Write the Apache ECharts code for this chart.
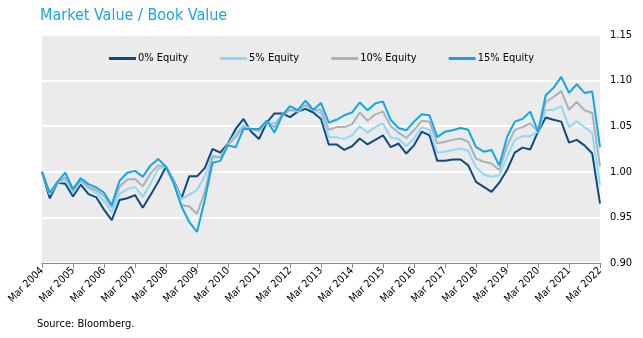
<!DOCTYPE html>
<html>
<head>
<meta charset="utf-8">
<script src="https://cdn.jsdelivr.net/npm/echarts@6/dist/echarts.min.js"></script>
<style>
html,body{margin:0;padding:0;background:#fff;}
#chart{width:643px;height:338px;}
</style>
</head>
<body>
<div id="chart"></div>
<script>
var years = [];
for (var yr = 2004; yr <= 2022; yr++) years.push(yr);
var quarterNames = ['Mar', 'Jun', 'Sep', 'Dec'];
var categories = [];
years.forEach(function (y) {
  quarterNames.forEach(function (q) {
    if (y === 2022 && q !== 'Mar') return;
    categories.push(q + ' ' + y);
  });
});

var equity0 = [1.000,0.971,0.988,0.987,0.973,0.986,0.9755,0.972,0.9585,0.947,0.969,0.971,0.9745,0.9605,0.9745,0.989,1.0055,0.990,0.971,0.995,0.995,1.004,1.025,1.021,1.031,1.047,1.058,1.044,1.036,1.054,1.064,1.064,1.060,1.066,1.069,1.065,1.058,1.030,1.030,1.024,1.028,1.0365,1.030,1.035,1.040,1.027,1.031,1.020,1.029,1.044,1.040,1.012,1.012,1.0135,1.0135,1.007,0.989,0.9835,0.978,0.988,1.002,1.021,1.0265,1.0245,1.044,1.0595,1.057,1.055,1.032,1.035,1.029,1.020,0.965];
var equity5 = [1.000,0.975,0.988,0.991,0.977,0.989,0.982,0.977,0.968,0.956,0.9755,0.981,0.9835,0.9725,0.987,1.0035,1.0055,0.989,0.970,0.975,0.980,0.995,1.018,1.016,1.030,1.042,1.051,1.047,1.044,1.055,1.053,1.062,1.0675,1.066,1.073,1.068,1.064,1.038,1.038,1.036,1.040,1.050,1.043,1.049,1.053,1.0375,1.036,1.028,1.0365,1.049,1.046,1.021,1.022,1.024,1.0255,1.023,1.005,0.997,0.9945,0.996,1.016,1.035,1.039,1.039,1.044,1.0675,1.068,1.072,1.049,1.0555,1.049,1.0425,0.9855];
var equity10 = [1.000,0.976,0.989,0.994,0.979,0.991,0.9835,0.980,0.9735,0.961,0.9835,0.9915,0.992,0.984,0.998,1.007,1.0055,0.988,0.9635,0.962,0.954,0.978,1.016,1.016,1.030,1.038,1.049,1.047,1.045,1.055,1.049,1.063,1.068,1.067,1.073,1.068,1.068,1.046,1.049,1.049,1.052,1.065,1.056,1.063,1.066,1.050,1.043,1.037,1.0455,1.056,1.055,1.031,1.033,1.035,1.0365,1.033,1.0145,1.011,1.009,1.002,1.028,1.046,1.049,1.053,1.044,1.0765,1.082,1.0885,1.068,1.0765,1.0675,1.0645,1.006];
var equity15 = [1.000,0.977,0.989,0.999,0.981,0.993,0.9865,0.983,0.977,0.9635,0.990,0.999,1.001,0.9945,1.007,1.014,1.0055,0.987,0.962,0.945,0.934,0.969,1.010,1.012,1.029,1.027,1.047,1.047,1.047,1.056,1.043,1.062,1.072,1.0675,1.078,1.068,1.0755,1.054,1.057,1.062,1.065,1.076,1.0675,1.075,1.077,1.057,1.048,1.0455,1.055,1.063,1.062,1.038,1.044,1.0455,1.048,1.046,1.027,1.022,1.024,1.007,1.038,1.055,1.058,1.066,1.044,1.084,1.092,1.104,1.0865,1.096,1.0865,1.088,1.027];

var seriesNames = ['0% Equity', '5% Equity', '10% Equity', '15% Equity'];
var seriesColors = ['#0E4A7E', '#8FD8F8', '#A8B2BC', '#12A7E2'];
var seriesData = [equity0, equity5, equity10, equity15];

var FONT = '"DejaVu Sans Condensed", "DejaVu Sans", sans-serif';

var chart = echarts.init(document.getElementById('chart'), null, {renderer: 'canvas'});
chart.setOption({
  animation: false,
  title: {
    text: 'Market Value / Book Value',
    left: 35,
    top: 3,
    textStyle: {color: '#1AA6E0', fontSize: 16, fontWeight: 'normal', fontFamily: FONT}
  },
  graphic: [{
    type: 'text',
    left: 37,
    top: 319,
    style: {text: 'Source: Bloomberg.', fill: '#000', font: '11px ' + FONT}
  }],
  legend: {
    top: 48,
    left: 'center',
    icon: 'rect',
    itemWidth: 27,
    itemHeight: 3,
    itemGap: 32,
    textStyle: {color: '#000', fontSize: 11, fontFamily: FONT, padding: [0, 0, 0, -3]},
    data: seriesNames
  },
  grid: {
    left: 42, right: 43, top: 35, bottom: 75,
    show: true, backgroundColor: '#EBEBEB', borderWidth: 0
  },
  xAxis: {
    type: 'category',
    boundaryGap: false,
    data: categories,
    axisLine: {lineStyle: {color: '#8C8C8C', width: 1}},
    axisTick: {interval: 3, length: 5, lineStyle: {color: '#8C8C8C'}},
    axisLabel: {interval: 3, rotate: 45, fontSize: 10.5, color: '#000', fontFamily: FONT, margin: 6},
    splitLine: {show: false}
  },
  yAxis: {
    type: 'value',
    position: 'right',
    min: 0.9, max: 1.15, interval: 0.05,
    axisLine: {show: false},
    axisTick: {show: false},
    axisLabel: {color: '#000', fontSize: 11, fontFamily: FONT, margin: 10,
      formatter: function (v) { return v.toFixed(2); }},
    splitLine: {lineStyle: {color: '#FFFFFF', width: 2}}
  },
  series: seriesNames.map(function (n, k) {
    return {
      name: n,
      type: 'line',
      data: seriesData[k],
      symbol: 'none',
      showSymbol: false,
      lineStyle: {color: seriesColors[k], width: 2},
      itemStyle: {color: seriesColors[k]}
    };
  })
});
</script>
</body>
</html>
